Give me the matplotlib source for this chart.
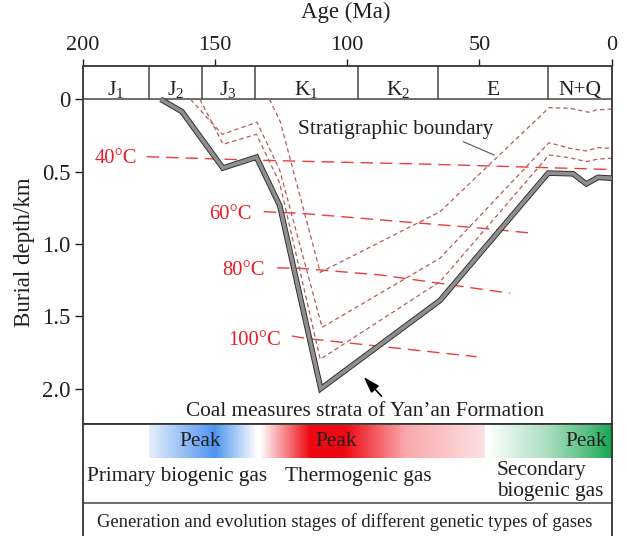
import numpy as np
import matplotlib
matplotlib.use("Agg")
import matplotlib.pyplot as plt

plt.rcParams['font.family'] = ['Liberation Serif', 'DejaVu Serif']
plt.rcParams['mathtext.fontset'] = 'custom'
plt.rcParams['mathtext.rm'] = 'Liberation Serif'
plt.rcParams['mathtext.it'] = 'Liberation Serif:italic'

# ---------------- data ----------------
period_bounds = [200, 175, 155, 135, 96, 65.5, 24, 0]
period_labels = ['J$_1$', 'J$_2$', 'J$_3$', 'K$_1$', 'K$_2$', 'E', 'N+Q']

coal_age = [170.5, 162.5, 147.0, 134.3, 125.5, 110.0, 64.9, 24.0, 14.6, 9.6, 5.2, 0.0]
coal_depth = [0.0, 0.085, 0.475, 0.40, 0.735, 2.0, 1.39, 0.51, 0.515, 0.585, 0.54, 0.545]

strat1_age = [159.2, 147.3, 134.1, 125.5, 109.5, 64.9, 23.7, 15.8, 9.6, 5.2, 0.0]
strat1_depth = [0.0, 0.242, 0.159, 0.49, 1.576, 1.098, 0.30, 0.339, 0.357, 0.334, 0.339]
strat2_age = [155.7, 146.9, 134.3, 125.5, 110.2, 64.9, 23.7, 15.8, 9.6, 5.2, 0.0]
strat2_depth = [0.0, 0.311, 0.242, 0.58, 1.797, 1.26, 0.385, 0.404, 0.431, 0.413, 0.408]
strat3_age = [129.4, 125.3, 110.2, 64.9, 23.7, 15.8, 8.6, 5.8, 0.0]
strat3_depth = [0.0, 0.155, 1.196, 0.777, 0.058, 0.062, 0.09, 0.074, 0.067]

iso40_age = [175.8, 136.6, 68.7, 1.0]
iso40_depth = [0.397, 0.42, 0.449, 0.485]
iso60_age = [131.6, 117.7, 49.8, 29.7]
iso60_depth = [0.777, 0.788, 0.89, 0.926]
iso80_age = [126.5, 117.7, 87.5, 38.5]
iso80_depth = [1.165, 1.168, 1.214, 1.34]
iso100_age = [120.9, 115.8, 51.1]
iso100_depth = [1.636, 1.652, 1.779]

iso_labels = ['40°C', '60°C', '80°C', '100°C']
iso_label_age = [179.5, 136.0, 131.0, 125.1]
iso_label_depth = [0.406, 0.793, 1.18, 1.668]

# gas generation gradients (age knots, alpha knots)
blue_age = [174.8, 150.0, 134.2]
blue_alpha = [0.15, 1.0, 0.0]
red_age = [133.0, 114.0, 101.0, 78.0, 48.0]
red_alpha = [0.0, 1.0, 1.0, 0.35, 0.12]
green_age = [47.3, 25.0, 10.0, 0.0]
green_alpha = [0.0, 0.35, 0.7, 1.0]

# ---------------- figure ----------------
W, H = 627, 536
fig = plt.figure(figsize=(W / 100, H / 100), dpi=100)
L, R, T, B = 82.7, 611.7, 66.0, 424.0
ax = fig.add_axes([L / W, 1 - B / H, (R - L) / W, (B - T) / H])

txt = '#231f20'
ax.set_xlim(200, 0)
ax.set_ylim(2.244, -0.23)
ax.xaxis.tick_top()
ax.set_xticks([200, 150, 100, 50, 0])
ax.set_yticks([0, 0.5, 1.0, 1.5, 2.0])
ax.set_yticklabels(['0', '0.5', '1.0', '1.5', '2.0'])
ax.tick_params(axis='x', direction='out', length=5, width=1, labelsize=16, pad=3, colors=txt)
ax.tick_params(axis='y', direction='out', length=5.5, width=1, labelsize=16.5, pad=3, colors=txt)
for s in ax.spines.values():
    s.set_linewidth(1.3)
    s.set_color('#333333')

ax.set_xlabel('Age (Ma)', fontsize=16.5, color=txt, va='center')
ax.xaxis.set_label_position('top')
ax.xaxis.set_label_coords((346 - L) / (R - L), 1 + (T - 18.3) / (B - T))
ax.set_ylabel('Burial depth/km', fontsize=16.5, color=txt, va='center')
ax.yaxis.set_label_coords((25 - L) / (R - L), 1 - (252.5 - T) / (B - T))

# period band
ax.axhline(0, color='#555555', lw=1.2)
for b in period_bounds[1:-1]:
    ax.plot([b, b], [-0.23, 0], color='#555555', lw=1.2)
for i, lab in enumerate(period_labels):
    mid = (period_bounds[i] + period_bounds[i + 1]) / 2
    ax.text(mid, -0.033, lab, ha='center', va='baseline', fontsize=15.5, color=txt)

# isotherms
iso_col = '#ee3b3b'
for a, d in [(iso40_age, iso40_depth), (iso60_age, iso60_depth),
             (iso80_age, iso80_depth), (iso100_age, iso100_depth)]:
    ax.plot(a, d, color=iso_col, lw=1.0, dashes=(9, 5))
for lab, a, d in zip(iso_labels, iso_label_age, iso_label_depth):
    ax.text(a, d, lab, ha='right', va='center', fontsize=14.8, color='#ee1c25')

# stratigraphic boundaries
strat_col = '#b55a5a'
for a, d in [(strat1_age, strat1_depth), (strat2_age, strat2_depth), (strat3_age, strat3_depth)]:
    ax.plot(a, d, color=strat_col, lw=0.9, dashes=(3.5, 2.5))

# coal measures band
ax.plot(coal_age, coal_depth, color='#2a2a2a', lw=4.0, solid_joinstyle='miter',
        solid_capstyle='butt', zorder=5)
ax.plot(coal_age, coal_depth, color='#8e8e8e', lw=2.7, solid_joinstyle='miter',
        solid_capstyle='butt', zorder=6)

ax.text(118.6, 0.207, 'Stratigraphic boundary', ha='left', va='center', fontsize=15.3, color=txt)
ax.plot([56.1, 44.5], [0.293, 0.385], color='#555555', lw=0.8)

ax.annotate('', xy=(94.5, 1.905), xytext=(86.3, 2.066),
            arrowprops=dict(arrowstyle='-|>,head_length=0.7,head_width=0.22',
                            color='black', lw=1.2, mutation_scale=14))
ax.text(93.3, 2.159, 'Coal measures strata of Yan\u2019an Formation', ha='center', va='center',
        fontsize=15.3, color=txt)

# ---------------- bottom panel ----------------
bx = fig.add_axes([L / W, 0, (R - L) / W, (H - B) / H])
bx.set_xlim(200, 0)
bx.set_ylim(H, B)
bx.set_xticks([])
bx.set_yticks([])
bx.spines['bottom'].set_visible(False)
for s in ['top', 'left', 'right']:
    bx.spines[s].set_linewidth(1.3)
    bx.spines[s].set_color('#333333')


def grad(ages, alphas, rgb):
    n = 400
    xs = np.linspace(ages[0], ages[-1], n)
    al = np.interp(-xs, [-a for a in ages], alphas)
    img = np.ones((1, n, 3))
    c = np.array(rgb) / 255.0
    for k in range(3):
        img[0, :, k] = 1 - al * (1 - c[k])
    bx.imshow(img, extent=(ages[0], ages[-1], 457.7, 425.0), aspect='auto',
              interpolation='bilinear', zorder=1)


grad(blue_age, blue_alpha, (78, 148, 240))
grad(red_age, red_alpha, (238, 8, 18))
grad(green_age, green_alpha, (18, 165, 80))
bx.set_xlim(200, 0)
bx.set_ylim(H, B)

bx.text(155.6, 441, 'Peak', ha='center', va='center', fontsize=15.3, color=txt, zorder=3)
bx.text(112.2, 441, 'Peak', ha='left', va='center', fontsize=15.3, color=txt, zorder=3)
bx.text(1.8, 441, 'Peak', ha='right', va='center', fontsize=15.3, color=txt, zorder=3)

bx.text(164.5, 476.7, 'Primary biogenic gas', ha='center', va='center', fontsize=15.3, color=txt)
bx.text(95.9, 476.7, 'Thermogenic gas', ha='center', va='center', fontsize=15.3, color=txt)
bx.text(43.5, 471, 'Secondary', ha='left', va='center', fontsize=15.3, color=txt)
bx.text(43.5, 491.7, 'biogenic gas', ha='left', va='center', fontsize=15.3, color=txt)

bx.axhline(503.3, color='#444444', lw=1.1)
bx.text(100.8, 522.3, 'Generation and evolution stages of different genetic types of gases',
        ha='center', va='center', fontsize=13.4, color=txt)

fig.savefig('out.png', dpi=100)
